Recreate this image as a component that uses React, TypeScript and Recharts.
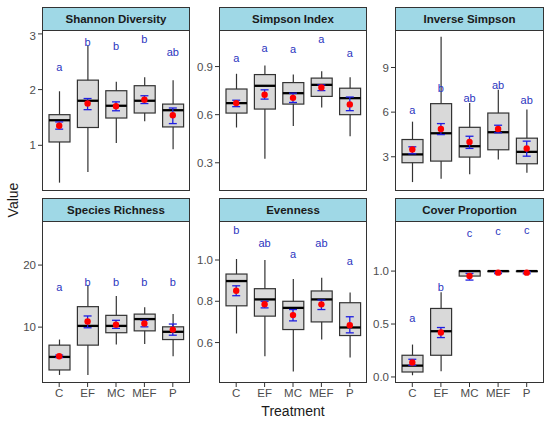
import React from "react";
import { ComposedChart, Bar, Scatter, ErrorBar, XAxis, YAxis } from "recharts";

const CATS = ["C", "EF", "MC", "MEF", "P"];

// box stats: [min, q1, median, q3, max]
const SHANNON_BOX = [[0.33, 1.06, 1.45, 1.55, 1.97], [0.52, 1.32, 1.8, 2.17, 2.79], [1.04, 1.49, 1.71, 1.98, 2.14], [1.43, 1.58, 1.8, 2.07, 2.22], [0.93, 1.33, 1.63, 1.74, 2.17]];
const SHANNON_MEAN = [1.35, 1.75, 1.7, 1.82, 1.54];
const SHANNON_CI = [[1.29, 1.42], [1.64, 1.84], [1.62, 1.78], [1.75, 1.89], [1.39, 1.67]];
const SHANNON_LET = ["a", "b", "b", "b", "ab"];
const SHANNON_LET_Y = [2.4, 2.85, 2.79, 2.91, 2.68];

const SIMPSON_BOX = [[0.52, 0.61, 0.672, 0.76, 0.855], [0.325, 0.635, 0.78, 0.85, 0.906], [0.53, 0.666, 0.734, 0.8, 0.85], [0.645, 0.714, 0.786, 0.828, 0.87], [0.465, 0.6, 0.703, 0.765, 0.834]];
const SIMPSON_MEAN = [0.672, 0.724, 0.705, 0.77, 0.664];
const SIMPSON_CI = [[0.65, 0.69], [0.697, 0.755], [0.676, 0.734], [0.75, 0.786], [0.625, 0.71]];
const SIMPSON_LET = ["a", "a", "a", "a", "a"];
const SIMPSON_LET_Y = [0.956, 1.014, 1.01, 1.07, 0.987];

const INVS_BOX = [[1.3, 2.6, 3.16, 4.16, 5.36], [1.53, 2.71, 4.58, 6.57, 11.07], [1.82, 2.98, 3.71, 4.98, 6.61], [2.82, 3.47, 4.65, 5.94, 7.5], [1.93, 2.53, 3.33, 4.25, 6.17]];
const INVS_MEAN = [3.49, 4.87, 4.0, 4.87, 3.56];
const INVS_CI = [[3.2, 3.67], [4.49, 5.23], [3.56, 4.38], [4.61, 5.12], [3.04, 4.05]];
const INVS_LET = ["a", "b", "ab", "ab", "ab"];
const INVS_LET_Y = [6.17, 7.62, 6.95, 7.8, 6.84];

const RICH_BOX = [[2.3, 3.1, 5.2, 7.1, 8.0], [2.3, 7.1, 10.2, 13.3, 16.8], [7.2, 9.1, 10.2, 11.9, 15.0], [7.3, 9.4, 11.3, 12.1, 13.2], [5.3, 8.0, 9.25, 10.05, 12.1]];
const RICH_MEAN = [5.3, 10.9, 10.4, 10.6, 9.6];
const RICH_CI = [[5.1, 5.5], [9.9, 11.8], [9.8, 11.1], [10.05, 11.1], [8.7, 10.5]];
const RICH_LET = ["a", "b", "b", "b", "b"];
const RICH_LET_Y = [16.4, 17.3, 17.2, 17.2, 17.2];

const EVEN_BOX = [[0.644, 0.778, 0.898, 0.932, 1.005], [0.534, 0.728, 0.809, 0.861, 1.0], [0.46, 0.663, 0.768, 0.8, 0.908], [0.615, 0.7, 0.809, 0.85, 0.914], [0.527, 0.634, 0.673, 0.793, 0.843]];
const EVEN_MEAN = [0.851, 0.786, 0.733, 0.785, 0.684];
const EVEN_CI = [[0.827, 0.875], [0.768, 0.8], [0.705, 0.76], [0.76, 0.806], [0.647, 0.725]];
const EVEN_LET = ["b", "ab", "a", "ab", "a"];
const EVEN_LET_Y = [1.146, 1.08, 1.03, 1.08, 0.997];

const COVER_BOX = [[0.016, 0.047, 0.107, 0.205, 0.306], [0.054, 0.205, 0.432, 0.647, 0.8], [0.95, 0.953, 1.0, 1.0, 1.0], [0.99, 0.995, 1.0, 1.0, 1.0], [0.99, 0.995, 1.0, 1.0, 1.0]];
const COVER_MEAN = [0.136, 0.42, 0.953, 0.985, 0.985];
const COVER_CI = [[0.11, 0.167], [0.372, 0.467], [0.915, 0.978], [0.976, 0.994], [0.975, 0.995]];
const COVER_LET = ["a", "b", "c", "c", "c"];
const COVER_LET_Y = [0.56, 0.845, 1.36, 1.38, 1.39];

const FONT = "'Liberation Sans', Arial, sans-serif";
const COLS = [42, 219, 395];
const PW = [148, 148, 149];
const ROWS = [{ strip: 7, top: 30, h: 161 }, { strip: 198, top: 221, h: 162 }];

function build(box, mean, ci, lets, letY) {
  return CATS.map((t, i) => ({
    t,
    range: [box[i][0], box[i][4]],
    stats: box[i],
    mean: mean[i],
    err: [mean[i] - ci[i][0], ci[i][1] - mean[i]],
    letter: lets[i],
    letterY: letY[i],
  }));
}

const PANELS = [
  { title: "Shannon Diversity", data: build(SHANNON_BOX, SHANNON_MEAN, SHANNON_CI, SHANNON_LET, SHANNON_LET_Y), domain: [0.18, 3.07], ticks: [1, 2, 3], dec: 0, r: 0, c: 0 },
  { title: "Simpson Index", data: build(SIMPSON_BOX, SIMPSON_MEAN, SIMPSON_CI, SIMPSON_LET, SIMPSON_LET_Y), domain: [0.124, 1.128], ticks: [0.3, 0.6, 0.9], dec: 1, r: 0, c: 1 },
  { title: "Inverse Simpson", data: build(INVS_BOX, INVS_MEAN, INVS_CI, INVS_LET, INVS_LET_Y), domain: [0.7, 11.52], ticks: [3, 6, 9], dec: 0, r: 0, c: 2 },
  { title: "Species Richness", data: build(RICH_BOX, RICH_MEAN, RICH_CI, RICH_LET, RICH_LET_Y), domain: [1.0, 27.1], ticks: [10, 20], dec: 0, r: 1, c: 0 },
  { title: "Evenness", data: build(EVEN_BOX, EVEN_MEAN, EVEN_CI, EVEN_LET, EVEN_LET_Y), domain: [0.404, 1.189], ticks: [0.6, 0.8, 1.0], dec: 1, r: 1, c: 1 },
  { title: "Cover Proportion", data: build(COVER_BOX, COVER_MEAN, COVER_CI, COVER_LET, COVER_LET_Y), domain: [-0.057, 1.473], ticks: [0.0, 0.5, 1.0], dec: 1, r: 1, c: 2 },
];

const BoxShape = (props: any) => {
  const { x, y, width, height, payload } = props;
  const [mn, q1, med, q3, mx] = payload.stats;
  const top = Math.min(y, y + height);
  const bot = Math.max(y, y + height);
  const span = mx - mn || 1;
  const py = (v: number) => bot - ((v - mn) / span) * (bot - top);
  const cx = x + width / 2;
  return (
    <g>
      <line x1={cx} x2={cx} y1={py(mx)} y2={py(mn)} stroke="#333" strokeWidth={1.2} />
      <rect x={x} y={py(q3)} width={width} height={Math.max(py(q1) - py(q3), 0.5)} fill="#D9D9D9" stroke="#333" strokeWidth={1.2} />
      <line x1={x} x2={x + width} y1={py(med)} y2={py(med)} stroke="#000" strokeWidth={2.3} />
    </g>
  );
};

const MeanDot = (props: any) => <circle cx={props.cx} cy={props.cy} r={3.2} fill="#FF0000" />;
const NoDot = () => <g />;

const LetterShape = (props: any) => (
  <text x={props.cx} y={props.cy} textAnchor="middle" dominantBaseline="central" fontSize={11} fill="#2B36C0" fontFamily={FONT}>
    {props.payload.letter}
  </text>
);

function Panel({ p }: { p: any }) {
  const row = ROWS[p.r];
  const left = COLS[p.c];
  const pw = PW[p.c];
  const yw = 30;
  const bottomRow = p.r === 1;
  const chartH = row.h + (bottomRow ? 22 : 0);
  return (
    <>
      <div style={{ position: "absolute", left: left - yw, top: row.top }}>
        <ComposedChart width={pw + yw} height={chartH} data={p.data} margin={{ top: 0, right: 0, bottom: 0, left: 0 }}>
          <XAxis
            dataKey="t"
            type="category"
            hide={!bottomRow}
            height={22}
            padding={{ left: 3, right: 3 }}
            axisLine={false}
            tickLine={{ stroke: "#333" }}
            tickSize={4}
            interval={0}
            tick={{ fill: "#4D4D4D", fontSize: 11.5, fontFamily: FONT }}
          />
          <YAxis
            type="number"
            width={yw}
            domain={p.domain}
            ticks={p.ticks}
            allowDataOverflow
            axisLine={false}
            tickLine={{ stroke: "#333" }}
            tickSize={4}
            tickFormatter={(v: number) => v.toFixed(p.dec)}
            tick={{ fill: "#4D4D4D", fontSize: 11.5, fontFamily: FONT }}
          />
          <Bar dataKey="range" barSize={21} shape={<BoxShape />} isAnimationActive={false} />
          <Scatter dataKey="mean" shape={<NoDot />} isAnimationActive={false}>
            <ErrorBar dataKey="err" direction="y" width={4} stroke="#2020E0" strokeWidth={1.3} />
          </Scatter>
          <Scatter dataKey="mean" shape={<MeanDot />} isAnimationActive={false} />
          <Scatter dataKey="letterY" shape={<LetterShape />} isAnimationActive={false} />
        </ComposedChart>
      </div>
      <div
        style={{
          position: "absolute",
          left,
          top: row.top,
          width: pw,
          height: row.h,
          boxSizing: "border-box",
          border: "1.3px solid #333",
          pointerEvents: "none",
        }}
      />
      <div
        style={{
          position: "absolute",
          left,
          top: row.strip,
          width: pw,
          height: row.top - row.strip + 1,
          boxSizing: "border-box",
          border: "1.3px solid #333",
          background: "#9FD8E6",
          display: "flex",
          alignItems: "center",
          justifyContent: "center",
          fontFamily: FONT,
          fontWeight: "bold",
          fontSize: 11.5,
          color: "#1A1A1A",
        }}
      >
        {p.title}
      </div>
    </>
  );
}

export default function App() {
  return (
    <div style={{ position: "absolute", left: 0, top: 0, width: 550, height: 424, background: "#fff", overflow: "hidden", fontFamily: FONT }}>
      {PANELS.map((p) => (
        <Panel key={p.title} p={p} />
      ))}
      <div
        style={{
          position: "absolute",
          left: 13,
          top: 200,
          transform: "translate(-50%, -50%) rotate(-90deg)",
          fontSize: 14,
          color: "#1A1A1A",
          fontFamily: FONT,
          whiteSpace: "nowrap",
        }}
      >
        Value
      </div>
      <div
        style={{
          position: "absolute",
          left: 293,
          top: 411,
          transform: "translate(-50%, -50%)",
          fontSize: 14,
          color: "#1A1A1A",
          fontFamily: FONT,
          whiteSpace: "nowrap",
        }}
      >
        Treatment
      </div>
    </div>
  );
}
